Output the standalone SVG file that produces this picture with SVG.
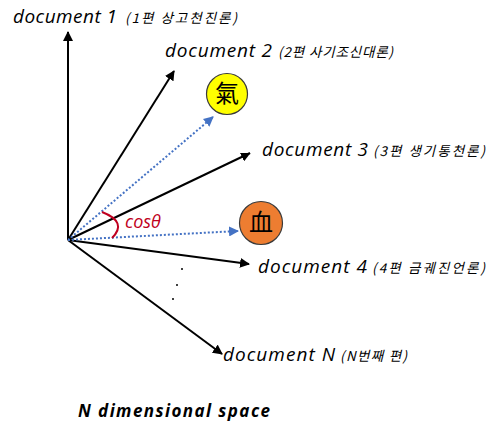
<svg xmlns="http://www.w3.org/2000/svg" width="496" height="426" viewBox="0 0 496 426">
<defs>
<marker id="ah" viewBox="0 0 10 10" refX="9" refY="5" markerWidth="5" markerHeight="5" orient="auto" markerUnits="strokeWidth">
<path d="M0,0 L10,5 L0,10 Z" fill="#000"/>
</marker>
<marker id="bh" viewBox="0 0 10 10" refX="9" refY="5" markerWidth="5" markerHeight="5" orient="auto" markerUnits="strokeWidth">
<path d="M0,0 L10,5 L0,10 Z" fill="#4472c4"/>
</marker>
</defs>
<style>
.ax{stroke:#000;stroke-width:2;fill:none;marker-end:url(#ah)}
.dt{stroke:#4472c4;stroke-width:2;stroke-dasharray:2 2;fill:none;marker-end:url(#bh)}
.lbl{font-family:"Open Sans","Liberation Sans",sans-serif;font-style:italic;font-size:19px;fill:#000}
.kr{font-family:"Noto Sans CJK KR",sans-serif;font-style:italic;font-size:13.5px;fill:#000}
.han{font-family:"Noto Sans CJK KR","Noto Sans CJK TC",serif;font-size:24px;fill:#000;text-anchor:middle}
</style>
<rect width="496" height="426" fill="#fff"/>
<g id="connectors">
<line class="ax" x1="68" y1="240" x2="68" y2="32"/>
<line class="ax" x1="68" y1="240" x2="174" y2="71"/>
<line class="ax" x1="68" y1="240" x2="250" y2="153"/>
<line class="ax" x1="68" y1="240" x2="249" y2="264"/>
<line class="ax" x1="68" y1="240" x2="222" y2="354"/>
<line class="dt" x1="68" y1="240" x2="213" y2="117"/>
<line class="dt" x1="68" y1="240" x2="238" y2="231"/>
</g>
<g id="doc1"><text x="13" y="23"><tspan class="lbl" textLength="104">document 1</tspan><tspan class="kr" x="125" textLength="112">(1편 상고천진론)</tspan></text></g>
<g id="doc2"><text x="165" y="57"><tspan class="lbl" textLength="107">document 2</tspan><tspan class="kr" x="278" textLength="115">(2편 사기조신대론)</tspan></text></g>
<g id="doc3"><text x="262" y="156"><tspan class="lbl" textLength="106">document 3</tspan><tspan class="kr" x="373" textLength="112">(3편 생기통천론)</tspan></text></g>
<g id="doc4"><text x="258" y="273"><tspan class="lbl" textLength="109">document 4</tspan><tspan class="kr" x="372" textLength="113">(4편 금궤진언론)</tspan></text></g>
<g id="docN"><text x="223" y="361"><tspan class="lbl" textLength="112">document N</tspan><tspan class="kr" x="340" textLength="67">(N번째 편)</tspan></text></g>
<g id="qi">
<circle cx="227" cy="94" r="20.5" fill="#ffff00" stroke="#3a3a3a" stroke-width="1.2"/>
<text class="han" x="227" y="102">氣</text>
</g>
<g id="blood">
<circle cx="261" cy="223" r="21.5" fill="#ed7d31" stroke="#3a3a3a" stroke-width="1.2"/>
<text class="han" x="261" y="231">血</text>
</g>
<g id="angle">
<path d="M102,212 Q128,222 112,238" fill="none" stroke="#c00020" stroke-width="2"/>
<text x="125" y="228" font-family="Open Sans, Liberation Sans, sans-serif" font-style="italic" font-size="18" fill="#c00020">cosθ</text>
</g>
<g id="dots" fill="#000">
<circle cx="182" cy="269" r="1"/>
<circle cx="177" cy="285" r="1"/>
<circle cx="173" cy="299" r="1"/>
</g>
<text x="78" y="417" font-family="Open Sans, Liberation Sans, sans-serif" font-style="italic" font-weight="bold" font-size="17" textLength="192" fill="#000">N dimensional space</text>
</svg>
